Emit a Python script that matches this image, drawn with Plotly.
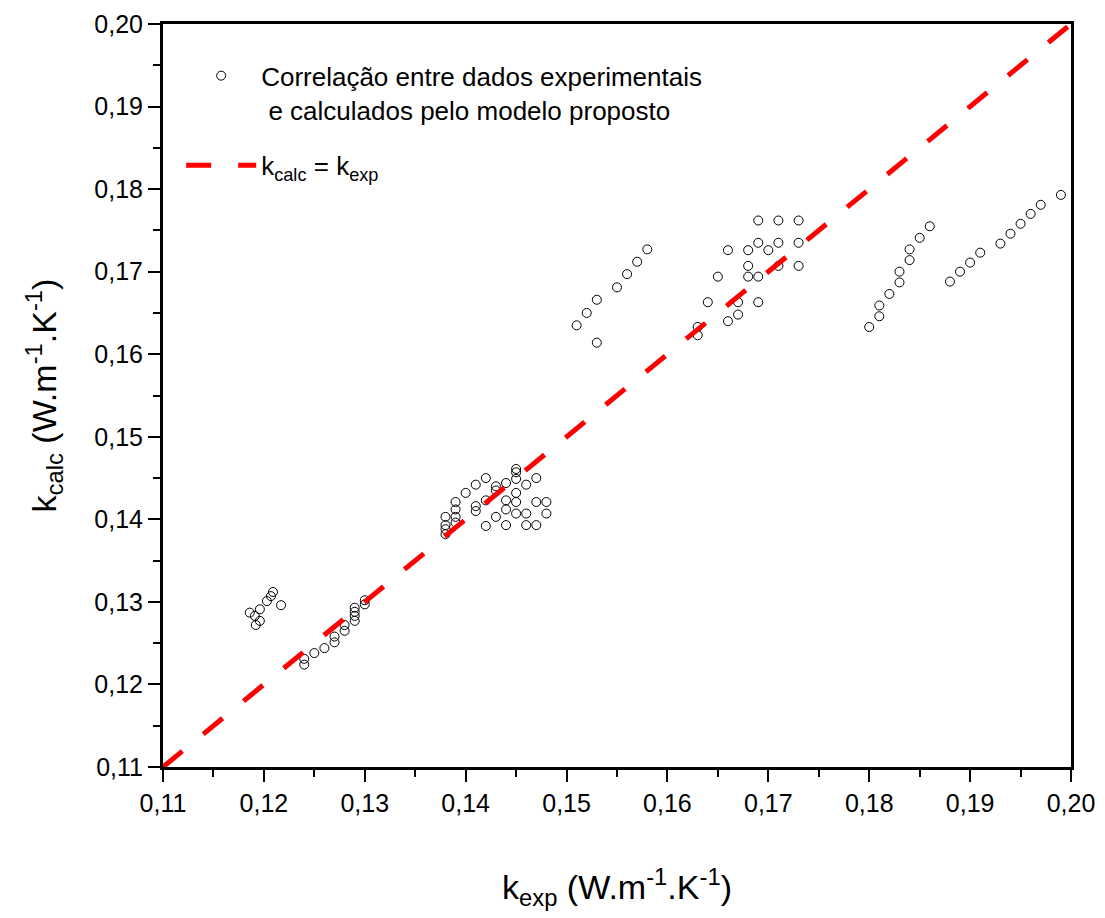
import plotly.graph_objects as go

# Experimental vs calculated thermal conductivity (W.m-1.K-1)
kexp_a = [0.1186, 0.1191, 0.1196, 0.1192, 0.1196, 0.1203, 0.1207, 0.1209, 0.1217]
kcalc_a = [0.1287, 0.1283, 0.1277, 0.1272, 0.1291, 0.1301, 0.1307, 0.1312, 0.1296]

kexp_b = [0.124, 0.124, 0.125, 0.126, 0.127, 0.127, 0.128, 0.128, 0.129, 0.129, 0.129, 0.129, 0.130, 0.130]
kcalc_b = [0.1224, 0.1231, 0.1238, 0.1244, 0.1251, 0.1258, 0.1265, 0.1272, 0.1277, 0.1283, 0.1288, 0.1293, 0.1297, 0.1302]

kexp_c = [0.138, 0.138, 0.138, 0.138, 0.139, 0.139, 0.139, 0.139, 0.140, 0.141, 0.142,
          0.141, 0.141, 0.142, 0.142, 0.143, 0.143, 0.143, 0.144, 0.144, 0.144, 0.144,
          0.145, 0.145, 0.145, 0.145, 0.145, 0.145, 0.146, 0.146, 0.146, 0.147, 0.147,
          0.147, 0.148, 0.148]
kcalc_c = [0.1382, 0.1388, 0.1393, 0.1403, 0.1396, 0.1403, 0.1412, 0.1421, 0.1432, 0.1442, 0.1450,
           0.1410, 0.1416, 0.1392, 0.1423, 0.1403, 0.1435, 0.1440, 0.1444, 0.1423, 0.1412, 0.1393,
           0.1461, 0.1457, 0.1449, 0.1432, 0.1421, 0.1407, 0.1442, 0.1407, 0.1393, 0.1450, 0.1421,
           0.1393, 0.1421, 0.1407]

kexp_d = [0.151, 0.152, 0.153, 0.153, 0.155, 0.156, 0.157, 0.158]
kcalc_d = [0.1635, 0.1650, 0.1666, 0.1614, 0.1681, 0.1697, 0.1712, 0.1727]

kexp_e = [0.169, 0.171, 0.173, 0.169, 0.171, 0.173, 0.166, 0.168, 0.170, 0.168, 0.171,
          0.173, 0.165, 0.168, 0.169, 0.164, 0.167, 0.169, 0.167, 0.166, 0.163, 0.163]
kcalc_e = [0.1762, 0.1762, 0.1762, 0.1735, 0.1735, 0.1735, 0.1726, 0.1726, 0.1726, 0.1707, 0.1707,
           0.1707, 0.1694, 0.1694, 0.1694, 0.1663, 0.1663, 0.1663, 0.1648, 0.1640, 0.1633, 0.1623]

kexp_f = [0.180, 0.181, 0.181, 0.182, 0.183, 0.183, 0.184, 0.184, 0.185, 0.186,
          0.188, 0.189, 0.190, 0.191, 0.193, 0.194, 0.195, 0.196, 0.197, 0.199]
kcalc_f = [0.1633, 0.1646, 0.1659, 0.1673, 0.1687, 0.1700, 0.1714, 0.1727, 0.1741, 0.1755,
           0.1688, 0.1700, 0.1711, 0.1723, 0.1734, 0.1746, 0.1758, 0.1770, 0.1781, 0.1793]

kexp = kexp_a + kexp_b + kexp_c + kexp_d + kexp_e + kexp_f
kcalc = kcalc_a + kcalc_b + kcalc_c + kcalc_d + kcalc_e + kcalc_f

line_x = [0.11, 0.20]
line_y = [0.11, 0.20]

tick_vals = [0.11, 0.12, 0.13, 0.14, 0.15, 0.16, 0.17, 0.18, 0.19, 0.20]
tick_text = ["0,11", "0,12", "0,13", "0,14", "0,15", "0,16", "0,17", "0,18", "0,19", "0,20"]

fig = go.Figure()
fig.add_trace(go.Scatter(
    x=kexp, y=kcalc, mode="markers",
    name="Correlação entre dados experimentais<br> e calculados pelo modelo proposto",
    legendgroup="pts",
    marker=dict(symbol="circle-open", size=9, color="black", line=dict(width=1, color="black")),
))
fig.add_trace(go.Scatter(
    x=line_x, y=line_y, mode="lines",
    name="k<sub>calc</sub> = k<sub>exp</sub>", legendgroup="line",
    line=dict(color="#ff0000", width=5, dash="25px,27px"),
))

axis_common = dict(
    showgrid=False, zeroline=False, automargin=False,
    showline=True, linecolor="black", linewidth=3, mirror=True,
    ticks="outside", ticklen=12, tickwidth=2, tickcolor="black",
    tickvals=tick_vals, ticktext=tick_text,
    range=[0.11, 0.20],
    tickfont=dict(size=25),
    minor=dict(ticks="outside", ticklen=7, tickwidth=2, tickcolor="black", dtick=0.005, tick0=0.11),
)

fig.update_layout(
    width=1105, height=918,
    paper_bgcolor="white", plot_bgcolor="white",
    margin=dict(l=155, r=42, t=16, b=159),
    font=dict(family="Liberation Sans, Arial, sans-serif", color="black"),
    xaxis=dict(
        **axis_common,
        title=dict(text="k<sub>exp</sub> (W.m<sup>-1</sup>.K<sup>-1</sup>)",
                   font=dict(size=34), standoff=60),
    ),
    yaxis=dict(
        **axis_common,
        title=dict(text="k<sub>calc</sub> (W.m<sup>-1</sup>.K<sup>-1</sup>)",
                   font=dict(size=34), standoff=28),
    ),
    legend=dict(
        x=0.02, y=0.962, xanchor="left", yanchor="top",
        bgcolor="rgba(0,0,0,0)", font=dict(size=26),
        traceorder="grouped", itemwidth=70, valign="top",
        tracegroupgap=19,
    ),
    showlegend=True,
)

fig.write_html("out.html")
